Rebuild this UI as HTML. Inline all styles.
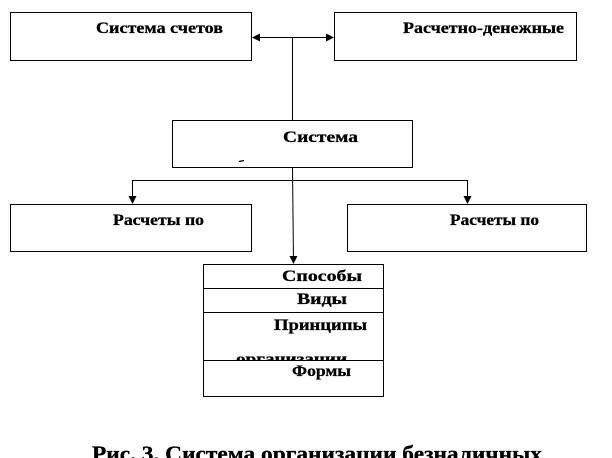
<!DOCTYPE html>
<html><head><meta charset="utf-8"><style>
html,body{margin:0;padding:0;background:#fff;width:612px;height:458px;overflow:hidden}
svg text{font-family:"Liberation Serif",serif;font-weight:bold;font-size:16px;fill:#000;stroke:#000;stroke-width:0.3}
</style></head><body>
<svg width="612" height="458" viewBox="0 0 612 458" xmlns="http://www.w3.org/2000/svg">
<defs>
<marker id="a" markerWidth="8" markerHeight="8" refX="7" refY="4" orient="auto" markerUnits="userSpaceOnUse"><path d="M0,0 L8,4 L0,8 z" fill="#000"/></marker>
<clipPath id="c"><rect x="203" y="312" width="181" height="48"/></clipPath>
</defs>
<g fill="none" stroke="#000" stroke-width="1">
<rect x="10.5" y="12.5" width="241" height="48"/>
<rect x="334.5" y="12.5" width="242" height="48"/>
<rect x="172.5" y="120.5" width="240" height="47"/>
<rect x="10.5" y="204.5" width="241" height="47"/>
<rect x="347.5" y="204.5" width="239" height="47"/>
<rect x="203.5" y="264.5" width="180" height="132"/>
<line x1="203" y1="288.5" x2="384" y2="288.5"/>
<line x1="203" y1="312.5" x2="384" y2="312.5"/>
<line x1="203" y1="360.5" x2="384" y2="360.5"/>
<line x1="292.5" y1="37" x2="292.5" y2="120"/>
<line x1="292.5" y1="37.5" x2="253" y2="37.5" marker-end="url(#a)"/>
<line x1="292.5" y1="37.5" x2="333" y2="37.5" marker-end="url(#a)"/>
<line x1="132.5" y1="180.5" x2="467.5" y2="180.5"/>
<line x1="132.5" y1="180" x2="132.5" y2="203" marker-end="url(#a)"/>
<line x1="467.5" y1="180" x2="467.5" y2="203" marker-end="url(#a)"/>
<line x1="292.5" y1="167" x2="293.5" y2="263" marker-end="url(#a)"/>
</g>
<text x="96" y="33" textLength="127" lengthAdjust="spacingAndGlyphs">Система счетов</text>
<text x="403" y="33" textLength="161" lengthAdjust="spacingAndGlyphs">Расчетно-денежные</text>
<text x="283" y="142" textLength="75" lengthAdjust="spacingAndGlyphs">Система</text>
<line x1="239" y1="161.5" x2="244" y2="160.5" stroke="#000" stroke-width="1.2"/>
<text x="113" y="225" textLength="91" lengthAdjust="spacingAndGlyphs">Расчеты по</text>
<text x="450" y="225" textLength="89" lengthAdjust="spacingAndGlyphs">Расчеты по</text>
<text x="282" y="281" textLength="80" lengthAdjust="spacingAndGlyphs">Способы</text>
<text x="297" y="304" textLength="50" lengthAdjust="spacingAndGlyphs">Виды</text>
<text x="274" y="330" textLength="93" lengthAdjust="spacingAndGlyphs">Принципы</text>
<text x="236" y="364" clip-path="url(#c)" textLength="111" lengthAdjust="spacingAndGlyphs">организации</text>
<text x="292" y="376" textLength="59" lengthAdjust="spacingAndGlyphs">Формы</text>
<text x="92" y="461" style="font-size:22px" textLength="450" lengthAdjust="spacingAndGlyphs">Рис. 3. Система организации безналичных</text>
</svg>
</body></html>
